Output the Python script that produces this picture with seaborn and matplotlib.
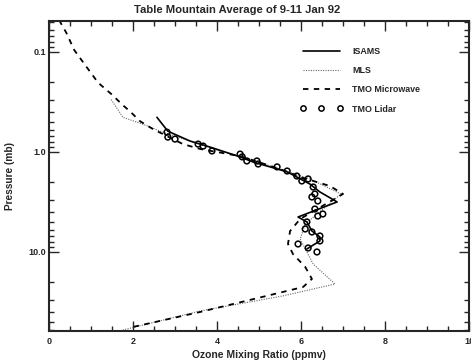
import numpy as np
import pandas as pd
import seaborn as sns
import matplotlib
matplotlib.use("Agg")
import matplotlib.pyplot as plt
from matplotlib.lines import Line2D
from matplotlib.ticker import FixedLocator, LogLocator, MultipleLocator, NullFormatter

# ---- data (ozone mixing ratio in ppmv, pressure in mb) ----
isams_x = [2.57, 2.83, 3.36, 3.83, 4.55, 4.86, 5.67, 6.21, 6.45, 6.86, 5.93, 6.14, 6.26, 6.45, 6.45, 6.14]
isams_p = [0.450, 0.620, 0.778, 0.892, 1.12, 1.26, 1.58, 2.09, 2.51, 3.16, 4.47, 5.01, 6.17, 7.08, 7.76, 9.33]

mls_x = [1.48, 1.76, 2.24, 2.71, 3.36, 4.07, 4.55, 5.50, 6.21, 6.95, 6.10, 5.98, 6.29, 6.81, 5.57, 3.60, 1.76]
mls_p = [0.299, 0.450, 0.528, 0.634, 0.778, 0.977, 1.10, 1.48, 1.86, 2.63, 5.25, 7.41, 13.2, 20.9, 27.5, 38.9, 60.3]

tmo_mw_x = [0.24, 0.41, 0.60, 0.86, 1.17, 1.50, 1.74, 1.93, 2.17, 2.48, 3.19, 3.60, 4.55, 5.50, 5.98, 6.69,
            7.00, 5.98, 5.74, 5.69, 5.81, 6.10, 6.26, 6.05, 5.57, 3.60, 2.00]
tmo_mw_p = [0.048, 0.064, 0.0955, 0.135, 0.203, 0.267, 0.335, 0.393, 0.493, 0.592, 0.834, 0.934, 1.10, 1.48,
            1.78, 2.19, 2.63, 4.68, 6.17, 8.32, 10.5, 14.1, 18.6, 22.4, 25.1, 39.8, 56.2]

lidar_x = [2.81, 2.83, 3.00, 3.55, 3.67, 3.88, 4.55, 4.60, 4.71, 4.95, 4.98, 5.43, 5.67, 5.90, 6.02, 6.17,
           6.29, 6.26, 6.33, 6.40, 6.33, 6.40, 6.52, 6.14, 6.10, 6.26, 6.45, 5.93, 6.17, 6.45, 6.38]
lidar_p = [0.634, 0.710, 0.743, 0.834, 0.873, 0.977, 1.05, 1.12, 1.23, 1.23, 1.32, 1.41, 1.55, 1.74, 1.95, 1.86,
           2.24, 2.82, 2.63, 3.09, 3.72, 4.37, 4.17, 5.01, 5.89, 6.31, 6.92, 8.32, 9.12, 7.76, 10.0]

x_ticks = [0, 2, 4, 6, 8, 10]
y_ticks = [0.1, 1.0, 10.0]
y_tick_labels = ["0.1", "1.0", "10.0"]

title = "Table Mountain Average of 9-11 Jan 92"
xlabel = "Ozone Mixing Ratio (ppmv)"
ylabel = "Pressure (mb)"

# ---- plotting ----
sns.set_style("ticks")
plt.rcParams['font.family'] = ['Liberation Sans', 'DejaVu Sans']
plt.rcParams['font.weight'] = 'bold'

fig = plt.figure(figsize=(4.71, 3.6), dpi=100)
ax = fig.add_axes([49 / 471, 1 - 331 / 360, 420 / 471, 310 / 360])

df_isams = pd.DataFrame({"x": isams_x, "p": isams_p})
df_mls = pd.DataFrame({"x": mls_x, "p": mls_p})
df_mw = pd.DataFrame({"x": tmo_mw_x, "p": tmo_mw_p})
df_lid = pd.DataFrame({"x": lidar_x, "p": lidar_p})

mls_style = dict(color="#666666", linewidth=0.8, linestyle=(0, (1, 1.2)))
mw_style = dict(color="black", linewidth=1.3, linestyle=(0, (3, 3)))
isams_style = dict(color="black", linewidth=1.2)

sns.lineplot(data=df_mls, x="x", y="p", sort=False, estimator=None, ax=ax, **mls_style)
sns.lineplot(data=df_mw, x="x", y="p", sort=False, estimator=None, ax=ax, **mw_style)
sns.lineplot(data=df_isams, x="x", y="p", sort=False, estimator=None, ax=ax, **isams_style)
sns.scatterplot(data=df_lid, x="x", y="p", ax=ax, marker="o", s=17,
                facecolor="none", edgecolor="black", linewidth=1.1, zorder=5)

ax.set_yscale("log")
ax.set_xlim(0, 10)
ax.set_ylim(61.7, 0.049)

ax.xaxis.set_major_locator(FixedLocator(x_ticks))
ax.xaxis.set_minor_locator(MultipleLocator(0.5))
ax.set_xticklabels([str(t) for t in x_ticks])
ax.yaxis.set_major_locator(FixedLocator(y_ticks))
ax.yaxis.set_minor_locator(LogLocator(base=10, subs=np.arange(2, 10)))
ax.yaxis.set_minor_formatter(NullFormatter())
ax.set_yticklabels(y_tick_labels)

ax.tick_params(which="both", direction="in", top=True, right=True, width=1.0,
               labelsize=6.5)
ax.tick_params(axis="y", pad=2)
ax.tick_params(axis="x", pad=4)
ax.tick_params(which="major", length=7)
ax.tick_params(which="minor", length=3.5)
for s in ax.spines.values():
    s.set_linewidth(1.5)

fig.text(237 / 471, 1 - 10 / 360, title, fontsize=8.1, fontweight="bold",
         ha="center", va="center")
ax.set_xlabel(xlabel, fontsize=7.5, fontweight="bold", labelpad=3)
ax.set_ylabel(ylabel, fontsize=7.3, fontweight="bold", labelpad=10)

handles = [
    Line2D([], [], **isams_style),
    Line2D([], [], **mls_style),
    Line2D([], [], **mw_style),
    Line2D([], [], color="black", linestyle="none", marker="o", markersize=3.8,
           markerfacecolor="none", markeredgewidth=1.1),
]
labels = ["ISAMS", "MLS", "TMO Microwave", "TMO Lidar"]
leg = ax.legend(handles, labels, loc="upper left", bbox_to_anchor=(0.589, 0.928),
                frameon=False, fontsize=6.4, handlelength=4.85, handletextpad=1.0,
                labelspacing=1.15, numpoints=3, borderaxespad=0)
for t in leg.get_texts():
    t.set_fontweight("bold")

fig.savefig("out.png", dpi=100)
